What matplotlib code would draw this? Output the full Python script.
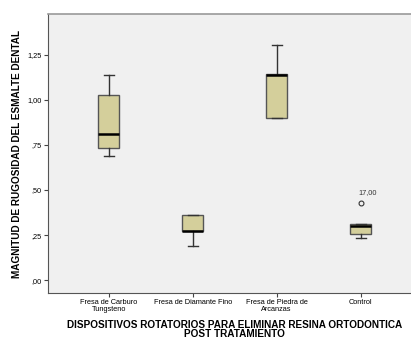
import matplotlib.pyplot as plt
import numpy as np

plt.rcParams['font.family'] = ['Liberation Sans', 'DejaVu Sans']

groups = ['Fresa de Carburo\nTungsteno', 'Fresa de Diamante Fino',
          'Fresa de Piedra de\nArcanzas', 'Control']
whisk_lo = [0.689, 0.191, 0.898, 0.232]
q1 = [0.731, 0.270, 0.898, 0.254]
med = [0.809, 0.270, 1.140, 0.302]
q3 = [1.028, 0.361, 1.146, 0.311]
whisk_hi = [1.139, 0.361, 1.307, 0.311]
outliers = [[], [], [], [0.43]]
outlier_ids = [[], [], [], ['17,00']]

yticks = [0.0, 0.25, 0.5, 0.75, 1.0, 1.25]
ytick_labels = [',00', ',25', ',50', ',75', '1,00', '1,25']

fig = plt.figure(figsize=(4.11, 3.38), dpi=100)
ax = fig.add_axes([0.1168, 0.1331, 0.9075, 0.8255])
ax.set_facecolor('#f0f0f0')

stats = []
for i in range(len(groups)):
    stats.append(dict(whislo=whisk_lo[i], q1=q1[i], med=med[i], q3=q3[i],
                      whishi=whisk_hi[i], fliers=outliers[i]))

pos = np.arange(1, len(groups) + 1)
ax.bxp(stats, positions=pos, widths=0.25, patch_artist=True,
       boxprops=dict(facecolor='#d4cf9b', edgecolor='#555555', linewidth=1.0),
       medianprops=dict(color='black', linewidth=1.8),
       whiskerprops=dict(color='#333333', linewidth=1.0),
       capprops=dict(color='#333333', linewidth=1.0),
       capwidths=0.12,
       flierprops=dict(marker='o', markersize=3.5, markerfacecolor='none',
                       markeredgecolor='#333333', markeredgewidth=0.8))

for i, (vals, ids) in enumerate(zip(outliers, outlier_ids)):
    for v, s in zip(vals, ids):
        ax.text(pos[i] - 0.02, v + 0.035, s, fontsize=5.3, color='#333333',
                ha='left', va='bottom')

ax.set_xlim(0.274, 4.72)
ax.set_ylim(-0.072, 1.478)
ax.set_yticks(yticks)
ax.set_yticklabels(ytick_labels, fontsize=5.3)
ax.set_xticks(pos)
ax.set_xticklabels(groups, fontsize=5.3, linespacing=1.0)
ax.tick_params(length=3, width=0.8, color='#444444', pad=1.5)

ax.spines['right'].set_visible(False)
ax.spines['top'].set_color('#999999')
ax.spines['top'].set_linewidth(1.2)
ax.spines['left'].set_color('#555555')
ax.spines['bottom'].set_color('#555555')

ax.set_ylabel('MAGNITUD DE RUGOSIDAD DEL ESMALTE DENTAL', fontsize=7.2,
              fontweight='bold', labelpad=4)
ax.set_xlabel('DISPOSITIVOS ROTATORIOS PARA ELIMINAR RESINA ORTODONTICA\nPOST TRATAMIENTO',
              fontsize=7.2, fontweight='bold', linespacing=0.9, labelpad=5)

fig.savefig('out.png', dpi=100)
